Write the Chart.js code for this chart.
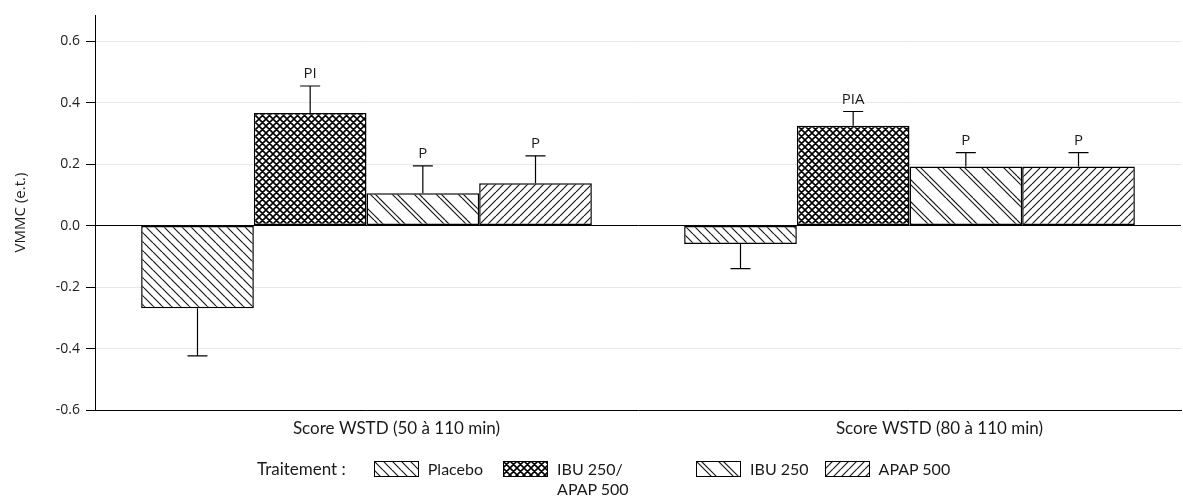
<!DOCTYPE html>
<html>
<head>
<meta charset="utf-8">
<script src="https://cdn.jsdelivr.net/npm/chart.js@4.4.0/dist/chart.umd.min.js"></script>
<style>
  html, body { margin: 0; padding: 0; background: #fff; }
  #wrap { position: relative; width: 1183px; height: 496px; }
  #legend {
    position: absolute; left: 257px; top: 459px;
    display: flex; align-items: flex-start;
    font-family: Lato, "Noto Sans", sans-serif; font-size: 16px; line-height: 20px; color: #1a1a1a;
  }
  #legend .title { margin-right: 28px; font-size: 17px; }
  #legend .item { display: flex; align-items: flex-start; margin-right: 20px; }
  #legend .item:nth-child(3) { margin-right: 59px; }
  #legend .item:nth-child(4) { margin-right: 16px; }
  #legend canvas { margin-top: 2px; margin-right: 9px; }
  #legend .label { max-width: 80px; }
</style>
</head>
<body>
<div id="wrap">
  <canvas id="chart"></canvas>
  <div id="legend"></div>
</div>
<script>
// data
const categories = ["Score WSTD (50 à 110 min)", "Score WSTD (80 à 110 min)"]
const seriesNames = ["Placebo", "IBU 250/ APAP 500", "IBU 250", "APAP 500"]
const placebo = [-0.269, -0.06]
const ibuApap = [0.366, 0.325]
const ibu = [0.105, 0.192]
const apap = [0.138, 0.192]
const placeboErr = [0.155, 0.08]
const ibuApapErr = [0.088, 0.046]
const ibuErr = [0.089, 0.045]
const apapErr = [0.089, 0.045]
const placeboSig = ["", ""]
const ibuApapSig = ["PI", "PIA"]
const ibuSig = ["P", "P"]
const apapSig = ["P", "P"]
const yTicks = [-0.6, -0.4, -0.2, 0.0, 0.2, 0.4, 0.6]
const yTitle = "VMMC (e.t.)"
const legendTitle = "Traitement :"

// hatch styles, one per series
const hatchKinds = ["back", "cross", "pair", "fwd"]

function makeTile(kind) {
  const size = kind === "cross" ? 7 : kind === "pair" ? 22 : kind === "back" ? 9 : 8
  const c = document.createElement("canvas")
  c.width = size
  c.height = size
  const g = c.getContext("2d")
  g.fillStyle = "#fff"
  g.fillRect(0, 0, size, size)
  g.strokeStyle = kind === "cross" ? "#000" : "#1a1a1a"
  g.lineWidth = kind === "cross" ? 1.6 : 1.2
  const offs = kind === "pair" ? [0, 5] : [0]
  const dirs = kind === "cross" ? ["\\", "/"] : kind === "fwd" ? ["/"] : ["\\"]
  g.beginPath()
  dirs.forEach((d) => {
    offs.forEach((o) => {
      for (let k = -1; k <= 1; k++) {
        const x = k * size + o
        if (d === "\\") {
          g.moveTo(x, 0)
          g.lineTo(x + size, size)
        } else {
          g.moveTo(x, size)
          g.lineTo(x + size, 0)
        }
      }
    })
  })
  g.stroke()
  return c
}

const canvas = document.getElementById("chart")
const ctx = canvas.getContext("2d")
const patterns = hatchKinds.map((k) => ctx.createPattern(makeTile(k), "repeat"))

const values = [placebo, ibuApap, ibu, apap]
const errors = [placeboErr, ibuApapErr, ibuErr, apapErr]
const sigs = [placeboSig, ibuApapSig, ibuSig, apapSig]

// error bars + significance letters
const errorBars = {
  id: "errorBars",
  afterDatasetsDraw(chart) {
    const c = chart.ctx
    const y = chart.scales.y
    chart.data.datasets.forEach((ds, i) => {
      chart.getDatasetMeta(i).data.forEach((bar, j) => {
        const v = ds.data[j]
        const yEnd = y.getPixelForValue(v + Math.sign(v) * ds.errors[j])
        c.save()
        c.strokeStyle = "#000"
        c.lineWidth = 1.2
        c.beginPath()
        c.moveTo(bar.x, bar.y)
        c.lineTo(bar.x, yEnd)
        c.moveTo(bar.x - 10, yEnd)
        c.lineTo(bar.x + 10, yEnd)
        c.stroke()
        if (ds.sig[j]) {
          c.fillStyle = "#1a1a1a"
          c.font = "15px 'Open Sans'"
          c.textAlign = "center"
          c.textBaseline = "alphabetic"
          c.fillText(ds.sig[j], bar.x, yEnd - 8)
        }
        c.restore()
      })
    })
  },
}

new Chart(ctx, {
  type: "bar",
  data: {
    labels: categories,
    datasets: seriesNames.map((name, i) => ({
      label: name,
      data: values[i],
      errors: errors[i],
      sig: sigs[i],
      backgroundColor: patterns[i],
      borderColor: "#000",
      borderWidth: 1.5,
      borderSkipped: false,
      categoryPercentage: 0.83,
      barPercentage: 1.0,
    })),
  },
  options: {
    responsive: true,
    maintainAspectRatio: false,
    animation: false,
    layout: { padding: { left: 0, right: 2, top: 15, bottom: 0 } },
    plugins: {
      legend: { display: false },
      tooltip: { enabled: false },
    },
    scales: {
      x: {
        afterFit: (s) => {
          s.height = 86
        },
        grid: { display: false, drawTicks: false },
        border: { color: "#000", width: 1 },
        ticks: {
          padding: 8,
          labelOffset: 30,
          autoSkip: false,
          maxRotation: 0,
          color: "#1a1a1a",
          font: { family: "Lato", size: 17 },
        },
      },
      y: {
        min: -0.6,
        max: 0.685,
        afterBuildTicks: (s) => {
          s.ticks = yTicks.map((v) => ({ value: v }))
        },
        afterFit: (s) => {
          s.width = 95
        },
        grid: {
          color: (c) => (c.tick && c.tick.value === 0 ? "#000" : "#e8e8e8"),
          tickColor: "#000",
          tickLength: 9,
        },
        border: { color: "#000", width: 1 },
        ticks: {
          padding: 6,
          color: "#222",
          font: { family: "Open Sans", size: 14 },
          callback: (v) => Number(v).toFixed(1),
        },
        title: {
          display: true,
          text: yTitle,
          color: "#1a1a1a",
          font: { family: "Open Sans", size: 15 },
          padding: { top: 12, bottom: 0 },
        },
      },
    },
  },
  plugins: [errorBars],
})

// legend
const legendEl = document.getElementById("legend")
const titleEl = document.createElement("div")
titleEl.className = "title"
titleEl.textContent = legendTitle
legendEl.appendChild(titleEl)
seriesNames.forEach((name, i) => {
  const item = document.createElement("div")
  item.className = "item"
  const sw = document.createElement("canvas")
  sw.width = 45
  sw.height = 16
  const g = sw.getContext("2d")
  g.fillStyle = g.createPattern(makeTile(hatchKinds[i]), "repeat")
  g.fillRect(0, 0, 45, 16)
  g.strokeStyle = "#000"
  g.lineWidth = 1
  g.strokeRect(0.5, 0.5, 44, 15)
  const label = document.createElement("div")
  label.className = "label"
  label.textContent = name
  item.appendChild(sw)
  item.appendChild(label)
  legendEl.appendChild(item)
})
</script>
</body>
</html>
